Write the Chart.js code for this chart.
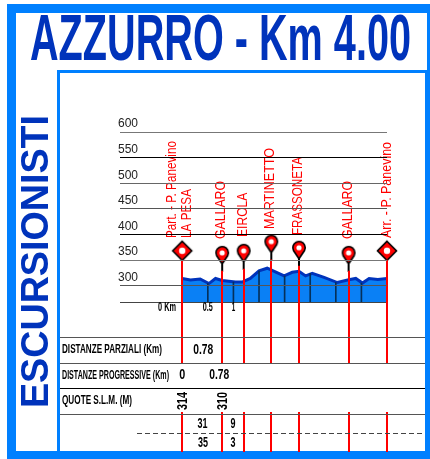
<!DOCTYPE html>
<html><head><meta charset="utf-8">
<script src="https://cdn.jsdelivr.net/npm/chart.js@4"></script>
<style>
html,body{margin:0;padding:0;background:#fff;width:430px;height:459px;overflow:hidden}
#outer{position:absolute;left:7px;top:4px;width:423px;height:455px;background:#0080ff}
#white{position:absolute;left:16px;top:13px;width:411px;height:438px;background:#fff}
#inner{position:absolute;left:57px;top:70px;width:373px;height:381px;background:#fff;border:solid #0080ff;border-width:3px 5px 0 3px;box-sizing:border-box}
canvas{position:absolute;left:0;top:0}
</style></head><body>
<div id="outer"></div><div id="white"></div><div id="inner"></div>
<canvas id="c" width="430" height="459"></canvas>
<script>
const titleText = "AZZURRO - Km 4.00";
const sideText = "ESCURSIONISTI";
const yTicks = [300,350,400,450,500,550,600];
const profileKm = [0,0.16,0.35,0.52,0.65,0.78,1.04,1.17,1.33,1.5,1.66,1.82,1.99,2.15,2.28,2.41,2.54,2.77,3.03,3.23,3.39,3.52,3.65,3.82,4];
const profileElev = [314,311,313,304,314,310,307,307,314,329,334,327,319,326,328,319,324,316,306,311,314,305,314,312,314];
const gridKm = [0.5,1,1.5,2,2.5,3,3.5];
const gridElev = [304,307,329,319,324,306,305];
const kmTickValues = [0,0.5,1];
const kmTickLabels = ["0 Km","0.5","1"];
const stationNames = ["Part. - P. Panevino","GALLARO","EIROLA","MARTINETTO","FRASSONETA","GALLARO","Arr. - P. Panevino"];
const extraName = "LA PESA";
const stationKm = [0,0.78,1.2,1.74,2.28,3.25,4];
const markerElev = [368,364,368,386,374,364,368];
const rowLabels = ["DISTANZE PARZIALI (Km)","DISTANZE PROGRESSIVE (Km)","QUOTE S.L.M. (M)"];
const partialDist = ["0.78"];
const progressiveDist = ["0","0.78"];
const quotes = ["314","310"];
const upper = ["31","9"];
const lower = ["35","3"];

const RED="#ff0000", BLUE="#0033bb";
function marker(kind){
  const s=document.createElement('canvas');s.width=s.height=44;
  const g=s.getContext('2d');const c=22;
  g.lineWidth=1.6;g.strokeStyle="#000";g.fillStyle=RED;
  if(kind==='d'){
    g.beginPath();g.moveTo(c,c-9.5);g.lineTo(c+9.5,c);g.lineTo(c,c+9.5);g.lineTo(c-9.5,c);g.closePath();g.fill();g.stroke();
    g.fillStyle="#fff";g.beginPath();g.arc(c,c,3.2,0,7);g.fill();
  }else{
    g.fillStyle="#000";g.fillRect(c-1,c+8,2,11);
    g.fillStyle=RED;
    g.beginPath();g.arc(c,c,6.2,Math.PI*0.85,Math.PI*0.15);g.lineTo(c,c+11);g.closePath();g.fill();g.stroke();
    g.fillStyle="#fff";g.beginPath();g.arc(c,c,2.6,0,7);g.fill();
  }
  return s;
}
const markers = stationKm.map((k,i)=>marker(i===0||i===stationKm.length-1?'d':'p'));
const gridCols = {600:"#777",550:"#000",500:"#666",450:"#555",400:"#000",350:"#777",300:"#555"};
const Y0=132, Y1=302, X0=120, X1=387;

function txt(g,s,x,y,font,color,maxW,rot,align){
  g.save();g.translate(x,y);if(rot)g.rotate(-Math.PI/2);
  g.font=font;g.fillStyle=color;g.textAlign=align||'center';g.textBaseline='middle';
  if(maxW)g.fillText(s,0,0,maxW);else g.fillText(s,0,0);
  g.restore();
}
const labelTops=[141,181,192.7,148,157,181,142];
const labelBottoms=[238,239,237,229,235,239,238];
const labelOff=[-10,-1,-1,-1,-1,-1,0];
const decor={id:'decor',afterDatasetsDraw(ch){
  const g=ch.ctx,xs=ch.scales.x,ys=ch.scales.y;
  const px=k=>xs.getPixelForValue(k);
  g.save();g.strokeStyle=RED;g.lineWidth=2;
  stationKm.forEach((k,i)=>{
    const x=Math.round(px(k));const d=i===0||i===stationKm.length-1;
    const st=ys.getPixelForValue(markerElev[i])+(d?9:18);
    g.beginPath();g.moveTo(x,st);g.lineTo(x,364);g.moveTo(x,412);g.lineTo(x,452);g.stroke();
  });
  g.restore();
  g.save();g.lineWidth=1;
  [337,363,388,414].forEach((y,i)=>{g.strokeStyle=i==2?"#000":"#555";g.beginPath();g.moveTo(60,y+.5);g.lineTo(425,y+.5);g.stroke();});
  g.strokeStyle="#444";g.setLineDash([5,3]);g.beginPath();g.moveTo(137,433.5);g.lineTo(425,433.5);g.stroke();
  g.restore();
  const tickF="bold 12px 'Liberation Sans'";
  kmTickValues.forEach((k,i)=>{
    if(i===0) txt(g,kmTickLabels[i],176,308,tickF,"#000",18,false,'right');
    else txt(g,kmTickLabels[i],px(k),308,tickF,"#000",i==1?10:3.5);
  });
  const red="15px 'Liberation Sans Narrow','Liberation Sans'";
  stationNames.forEach((n,i)=>{
    txt(g,n,px(stationKm[i])+labelOff[i],(labelTops[i]+labelBottoms[i])/2,red,RED,labelBottoms[i]-labelTops[i],true);
  });
  txt(g,extraName,186.7,213.5,red,RED,49,true);
  const rowF="bold 12px 'Liberation Sans'";
  txt(g,rowLabels[0],62,350,rowF,"#000",100,false,'left');
  txt(g,rowLabels[1],62,376,rowF,"#000",107,false,'left');
  txt(g,rowLabels[2],62,401,rowF,"#000",70,false,'left');
  const numF="bold 15px 'Liberation Sans Narrow','Liberation Sans'";
  txt(g,partialDist[0],(px(stationKm[0])+px(stationKm[1]))/2+1,350,numF,"#000",20);
  txt(g,progressiveDist[0],px(stationKm[0]),375,numF,"#000",6);
  txt(g,progressiveDist[1],px(stationKm[1])-3,375,numF,"#000",20);
  txt(g,quotes[0],px(stationKm[0])+1,401,numF,"#000",18,true);
  txt(g,quotes[1],px(stationKm[1])+1,401,numF,"#000",18,true);
  txt(g,upper[0],202.5,424,numF,"#000",10);txt(g,upper[1],233,424,numF,"#000",5);
  txt(g,lower[0],203,443,numF,"#000",10);txt(g,lower[1],233,443,numF,"#000",5);
  txt(g,titleText,220.5,42,"bold 65px 'Liberation Sans Narrow','Liberation Sans'",BLUE,381);
  txt(g,sideText,37,261.5,"bold 38.6px 'Liberation Sans'",BLUE,293,true);
}};

new Chart(document.getElementById('c'),{
  data:{datasets:[
    {type:'line',label:'Stazioni',order:0,data:stationKm.map((k,i)=>({x:k,y:markerElev[i]})),showLine:false,pointStyle:markers,pointRadius:10,clip:false},
    {type:'line',label:'Profilo',order:2,data:profileKm.map((k,i)=>({x:k,y:profileElev[i]})),borderColor:BLUE,borderWidth:3,backgroundColor:"#0a80f5",fill:'start',pointRadius:0,tension:0},
    {type:'bar',label:'Km',order:1,data:gridKm.map((k,i)=>({x:k,y:gridElev[i]})),backgroundColor:"#05305a",barThickness:1}
  ]},
  options:{
    responsive:false,animation:false,
    layout:{padding:{left:X0,right:430-X1,top:Y0,bottom:459-Y1}},
    plugins:{legend:{display:false},title:{display:false},tooltip:{enabled:false}},
    scales:{
      x:{type:'linear',offset:false,min:(X0-182)/51,max:4,afterFit:s=>{s.height=0},
        ticks:{display:false,stepSize:0.5},grid:{display:false,drawTicks:false,offset:false},
        border:{display:true,color:"#444",width:1}},
      y:{type:'linear',min:268,max:600,position:'left',afterFit:s=>{s.width=0},
        afterBuildTicks:s=>{s.ticks=yTicks.map(v=>({value:v}))},
        ticks:{mirror:true,padding:-2,align:'end',font:{family:"'Liberation Sans'",size:12,lineHeight:'4px'},color:"#222",callback:v=>[String(v),'']},
        grid:{z:1,drawTicks:false,color:c=>gridCols[c.tick&&c.tick.value]||"#000",lineWidth:1},
        border:{display:false}}
    }
  },
  plugins:[decor]
});
</script>
</body></html>
